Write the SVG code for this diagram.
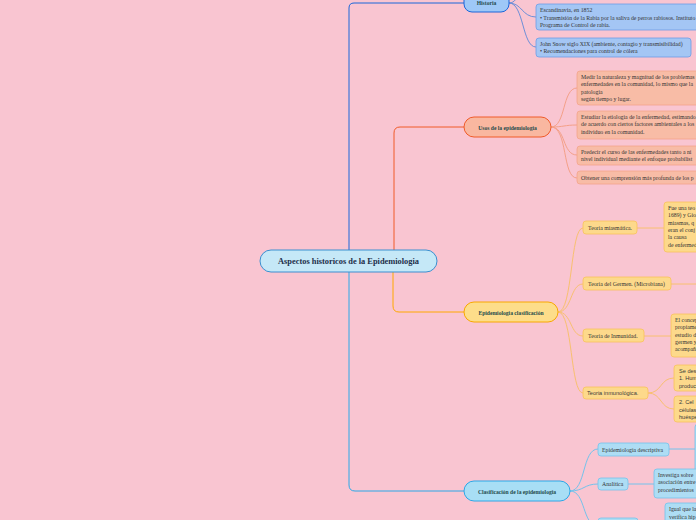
<svg xmlns="http://www.w3.org/2000/svg" width="696" height="520" viewBox="0 0 696 520">
<style>
.t{font-family:"Liberation Serif","Times New Roman",serif;font-size:5.8px;fill:#333}
.s{font-family:"Liberation Sans",Arial,sans-serif;font-size:5.6px;fill:#3a3a3a}
.b{font-family:"Liberation Serif","Times New Roman",serif;font-size:5.6px;font-weight:bold;fill:#234a4a;text-anchor:middle}
.c{fill:none;stroke-width:1}
.hb{fill:#A4C6F4;stroke:#6D9DE6;stroke-width:0.8}
.ub{fill:#F8BCA6;stroke:#F4A38A;stroke-width:0.8}
.yb{fill:#FDD98B;stroke:#F9C15C;stroke-width:0.8}
.cb{fill:#AEDDF4;stroke:#74C3EC;stroke-width:0.8}
</style>
<rect width="696" height="520" fill="#F9C5D1"/>
<g id="connectors">
<path class="c" stroke="#1A66D9" stroke-width="1.3" d="M349,250 V8 Q349,3 354,3 H464"/>
<path class="c" stroke="#F05A28" stroke-width="1.3" d="M394,250 V133 Q394,127 400,127 H464"/>
<path class="c" stroke="#FFA800" stroke-width="1.3" d="M393,272 V306 Q393,312 399,312 H464"/>
<path class="c" stroke="#2BA8E8" stroke-width="1.3" d="M349,272 V485 Q349,491 355,491 H464"/>
<g stroke="#6D8FD8">
<path class="c" d="M509,3 C518,3 516,-8 530,-14"/>
<path class="c" d="M509,3 C522,3 522,17 536,17"/>
<path class="c" d="M509,3 C524,3 522,47 536,47"/>
</g>
<g stroke="#F4A088">
<path class="c" d="M551,127 C566,127 562,88 577,88"/>
<path class="c" d="M551,127 C564,127 564,125 577,125"/>
<path class="c" d="M551,127 C566,127 562,155 577,155"/>
<path class="c" d="M551,127 C568,127 562,178 577,178"/>
</g>
<g stroke="#F8C070">
<path class="c" d="M558,312 C573,312 570,228 583,228"/>
<path class="c" d="M558,312 C572,312 570,284 583,284"/>
<path class="c" d="M558,312 C572,312 570,336 583,336"/>
<path class="c" d="M558,312 C573,312 570,393 583,393"/>
<path class="c" d="M637,228 H664"/>
<path class="c" d="M671,284 H696"/>
<path class="c" d="M644,336 H671"/>
<path class="c" d="M648,393 C662,393 660,378 674,378"/>
<path class="c" d="M648,393 C662,393 660,409 674,409"/>
</g>
<g stroke="#74C3EC">
<path class="c" d="M570,491 C586,491 582,449 598,449"/>
<path class="c" d="M570,491 C584,491 584,484 598,484"/>
<path class="c" d="M570,491 C586,491 582,526 598,526"/>
<path class="c" d="M669,449 H696"/>
<path class="c" d="M628,484 H654"/>
</g>
</g>
<g id="central">
<rect x="260" y="250" width="177" height="22" rx="11" fill="#C5E8F7" stroke="#3A8FD0" stroke-width="1"/>
<text x="348.5" y="264" font-family="Liberation Serif,serif" font-size="8.4" font-weight="bold" fill="#1d2f4a" text-anchor="middle">Aspectos historicos de la Epidemiologia</text>
</g>
<g id="historia">
<rect x="464" y="-8" width="45" height="20" rx="8" fill="#9EC8F7" stroke="#1A66D9" stroke-width="1"/>
<text class="b" x="486.5" y="5">Historia</text>
</g>
<g id="historia-1">
<rect class="hb" x="536" y="4" width="170" height="26" rx="3"/>
<text class="t" x="540" y="12">Escandinavia, en 1852</text>
<text class="t" x="540" y="19.5">• Transmisión de la Rabia por la saliva de perros rabiosos. Instituto</text>
<text class="t" x="540" y="27">Programa de Control de rabia.</text>
</g>
<g id="historia-2">
<rect class="hb" x="536" y="38" width="155" height="19" rx="3"/>
<text class="t" x="540" y="45.5">John Snow siglo XIX (ambiente, contagio y transmisibilidad)</text>
<text class="t" x="540" y="53">• Recomendaciones para control de cólera</text>
</g>
<g id="usos">
<rect x="464" y="117" width="87" height="20" rx="10" fill="#F9B7A0" stroke="#F05A28" stroke-width="1"/>
<text class="b" x="507.5" y="129.5">Usos de la epidemiologia</text>
</g>
<g id="usos-1">
<rect class="ub" x="577" y="71" width="130" height="34" rx="3"/>
<text class="t" x="581" y="78.5">Medir la naturaleza y magnitud de los problemas</text>
<text class="t" x="581" y="86">enfermedades en la comunidad, lo mismo que la</text>
<text class="t" x="581" y="93.5">patologia</text>
<text class="t" x="581" y="101">según tiempo y lugar.</text>
</g>
<g id="usos-2">
<rect class="ub" x="577" y="111" width="130" height="28" rx="3"/>
<text class="t" x="581" y="118.5">Estudiar la etiologia de la enfermedad, estimando</text>
<text class="t" x="581" y="126">de acuerdo con ciertos factores ambientales a los</text>
<text class="t" x="581" y="133.5">individuo en la comunidad.</text>
</g>
<g id="usos-3">
<rect class="ub" x="577" y="146" width="130" height="19" rx="3"/>
<text class="t" x="581" y="153.5">Predecir el curso de las enfermedades tanto a ni</text>
<text class="t" x="581" y="161">nivel individual mediante el enfoque probabilist</text>
</g>
<g id="usos-4">
<rect class="ub" x="577" y="171" width="130" height="13" rx="3"/>
<text class="t" x="581" y="179.5">Obtener una comprensión más profunda de los p</text>
</g>
<g id="clasif-epi">
<rect x="464" y="302" width="94" height="20" rx="10" fill="#FDDD8A" stroke="#F8A800" stroke-width="1"/>
<text class="b" x="511" y="314.5">Epidemiologia clasificación</text>
</g>
<g id="miasmatica">
<rect class="yb" x="583" y="221" width="54" height="13" rx="3"/>
<text class="t" x="588" y="229.7">Teoría miasmática.</text>
</g>
<g id="miasmatica-1">
<rect class="yb" x="664" y="202" width="50" height="50" rx="3"/>
<text class="t" x="668" y="210">Fue una teo</text>
<text class="t" x="668" y="217.3">1689) y Gio</text>
<text class="t" x="668" y="224.6">miasmas, q</text>
<text class="t" x="668" y="231.9">eran el conj</text>
<text class="t" x="668" y="239.2">la causa</text>
<text class="t" x="668" y="246.5">de enfermed</text>
</g>
<g id="germen">
<rect class="yb" x="583" y="277" width="88" height="13" rx="3"/>
<text class="t" x="588" y="285.7">Teoría del Germen. (Microbiana)</text>
</g>
<g id="inmunidad">
<rect class="yb" x="583" y="329" width="61" height="13" rx="3"/>
<text class="t" x="588" y="337.7">Teoría de Inmunidad.</text>
</g>
<g id="inmunidad-1">
<rect class="yb" x="671" y="314" width="40" height="43" rx="3"/>
<text class="t" x="675" y="322">El concep</text>
<text class="t" x="675" y="329.3">propiamen</text>
<text class="t" x="675" y="336.6"> estudio d</text>
<text class="t" x="675" y="343.9">germen y</text>
<text class="t" x="675" y="351.2">acompañ</text>
</g>
<g id="inmunologica">
<rect class="yb" x="583" y="387" width="65" height="12" rx="3"/>
<text class="s" x="587" y="395">Teoria inmunológica.</text>
</g>
<g id="inmunologica-1">
<rect class="yb" x="674" y="365" width="40" height="26" rx="3"/>
<text class="s" x="679" y="372.5">Se des</text>
<text class="s" x="679" y="380">1. Hum</text>
<text class="s" x="679" y="387.5">produc</text>
</g>
<g id="inmunologica-2">
<rect class="yb" x="674" y="396" width="40" height="26" rx="3"/>
<text class="s" x="679" y="404">2. Cel</text>
<text class="s" x="679" y="411.5">células</text>
<text class="s" x="679" y="419">huésped</text>
</g>
<g id="clasificacion">
<rect x="464" y="481" width="106" height="20" rx="10" fill="#A8DEF5" stroke="#2BA8E8" stroke-width="1"/>
<text class="b" x="517" y="493.5">Clasificación de la epidemiologia</text>
</g>
<g id="descriptiva">
<rect class="cb" x="598" y="443" width="71" height="13" rx="3"/>
<text class="t" x="602" y="451.5">Epidemiologia descriptiva</text>
</g>
<g id="descriptiva-1">
<rect class="cb" x="695" y="424" width="20" height="50" rx="3"/>
</g>
<g id="analitica">
<rect class="cb" x="598" y="478" width="30" height="12" rx="3"/>
<text class="t" x="602" y="486">Analítica</text>
</g>
<g id="analitica-1">
<rect class="cb" x="654" y="469" width="60" height="29" rx="3"/>
<text class="t" x="658" y="476.5">Investiga sobre</text>
<text class="t" x="658" y="484">asociación entre</text>
<text class="t" x="658" y="491.5">procedimientos</text>
</g>
<g id="experimental">
<rect class="cb" x="598" y="518" width="40" height="13" rx="3"/>
</g>
<g id="experimental-1">
<rect class="cb" x="665" y="503" width="50" height="30" rx="3"/>
<text class="t" x="669" y="511">Igual que la</text>
<text class="t" x="669" y="518.5">verifica hip</text>
</g>
</svg>
